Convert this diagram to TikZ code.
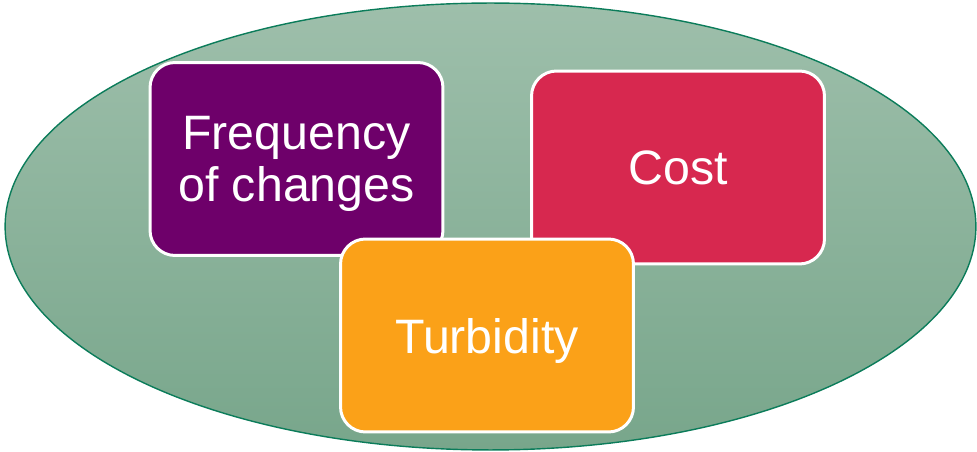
\documentclass[tikz,border=0pt]{standalone}
\usepackage{fontspec}
\setmainfont{Liberation Sans}
\usepackage{xcolor}
\usetikzlibrary{shapes,positioning,calc}

\definecolor{rimgreen}{HTML}{0B7C5A}
\definecolor{lightsage}{HTML}{9EBFAB}
\definecolor{darksage}{HTML}{78A68B}
\definecolor{plum}{HTML}{6E006A}
\definecolor{crimson}{HTML}{D7284F}
\definecolor{amber}{HTML}{FBA118}

\tikzset{
    factor/.style={rectangle, rounded corners=0.5cm, draw=white, line width=1.7pt,
        minimum width=5.86cm, minimum height=3.86cm, align=center, text=white,
        font=\fontsize{27.5}{29.6}\selectfont, inner sep=0pt, text depth=0pt}
}

\begin{document}
\begin{tikzpicture}[x=0.02cm, y=-0.02cm]
    \useasboundingbox (0,0) rectangle (977,452);

    % Outer ellipse
    \node (pool) [ellipse, draw=rimgreen, line width=0.8pt, top color=lightsage, bottom color=darksage,
        minimum width=19.42cm, minimum height=8.94cm, inner sep=0pt] at (490.5,226.5) {};

    % Factors
    \node (freq) [factor, fill=plum] at (296.5,159) {Frequency\\of changes};
    \node (cost) [factor, fill=crimson] at (678,167.5) {Cost};
    \node (turb) [factor, fill=amber] at (487,335.5) {Turbidity};
\end{tikzpicture}
\end{document}
